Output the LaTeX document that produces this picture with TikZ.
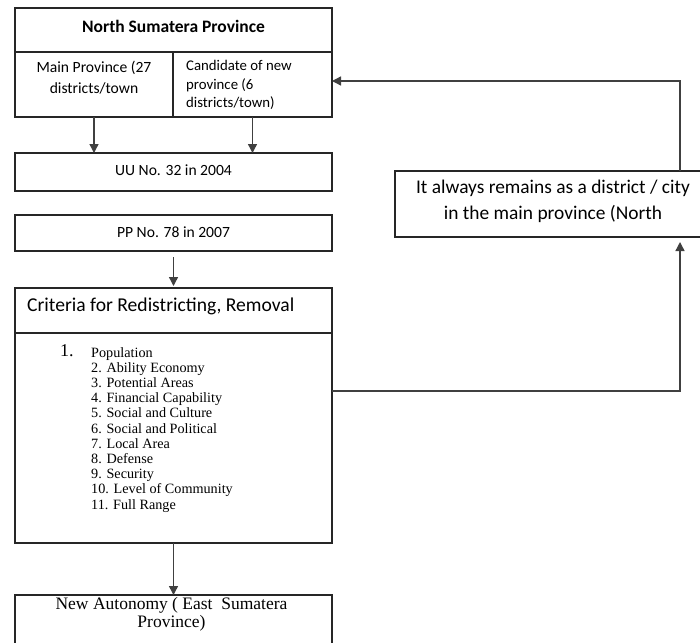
\documentclass[tikz,border=0pt]{standalone}
\usepackage{fontspec}
\setmainfont{Liberation Serif}
\newfontfamily\calfont{Carlito}
\usetikzlibrary{arrows.meta}
\tikzset{
  box/.style={draw=black!85, line width=1.4pt, inner sep=0pt, outer sep=0pt},
  conn/.style={draw=black!75, line width=1.4pt},
  arr/.style={conn, -{Triangle[length=9pt,width=9pt]}},
  sans/.style={font=\calfont\fontsize{15.6}{21}\selectfont},
  listtxt/.style={font=\fontsize{14.2}{15.2}\selectfont, anchor=north west, inner sep=0pt, align=left}
}
\begin{document}
\begin{tikzpicture}[x=1pt,y=-1pt]
\useasboundingbox (0,0) rectangle (700,642);
\clip (0,0) rectangle (700,642);
% boxes
\node[box, minimum width=317pt, minimum height=44pt] (title) at (173.5,30) {};
\node[box, minimum width=158pt, minimum height=65pt] (mainp) at (94,84.5) {};
\node[box, minimum width=159pt, minimum height=65pt] (cand) at (252.5,84.5) {};
\node[box, minimum width=317pt, minimum height=38pt] (uu) at (173.5,172) {};
\node[box, minimum width=317pt, minimum height=36pt] (pp) at (173.5,233) {};
\node[box, minimum width=317pt, minimum height=45pt] (crith) at (173.5,310.5) {};
\node[box, minimum width=317pt, minimum height=210pt] (critl) at (173.5,438) {};
\node[box, minimum width=317pt, minimum height=70pt] (newa) at (173.5,630) {};
\node[box, minimum width=320pt, minimum height=66pt] (remain) at (555,204) {};
% texts
\node[font=\calfont\bfseries\fontsize{17.5}{20}\selectfont] (ttitle) at (173.5,26.5) {North Sumatera Province};
\node[sans, align=center] (tmain) at (94,78) {Main Province (27\\districts/town};
\node[font=\calfont\fontsize{14.8}{18.7}\selectfont, align=left, anchor=north west, inner sep=0pt] (tcand) at (186,60) {Candidate of new\\province (6\\districts/town)};
\node[sans] (tuu) at (173.5,170) {UU No. 32 in 2004};
\node[sans] (tpp) at (173.5,232) {PP No. 78 in 2007};
\node[font=\calfont\fontsize{19.6}{22}\selectfont, anchor=west, inner sep=0pt] (tcrit) at (27,306.5) {Criteria for Redistricting, Removal};
\node[font=\fontsize{18}{18}\selectfont, anchor=north west, inner sep=0pt] (tone) at (60,344) {1.};
\node[listtxt] (tlist) at (91,347) {Population\\2. Ability Economy\\3. Potential Areas\\4. Financial Capability\\5. Social and Culture\\6. Social and Political\\7. Local Area\\8. Defense\\9. Security\\10. Level of Community\\11. Full Range};
\node[font=\fontsize{17.5}{18}\selectfont, align=center, anchor=north, inner sep=0pt] (tnewa) at (171.5,597) {New Autonomy ( East~~Sumatera\\Province)};
\node[font=\calfont\fontsize{19.4}{26}\selectfont, align=center] (tremain) at (553,201) {It always remains as a district / city\\in the main province (North};
% connectors
\draw[arr] (mainp.south) -- (uu.north -| mainp.south);
\draw[arr] (cand.south) -- (uu.north -| cand.south);
\draw[arr, shorten <=6pt, shorten >=2pt] (pp.south) -- (crith.north);
\draw[arr] (critl.south) -- (newa.north);
\coordinate (c1) at (680,391);
\coordinate (c2) at (680,81);
\draw[arr, shorten >=5pt] (critl.east |- c1) -- (c1) -- (c1 |- remain.south);
\draw[arr] (c1 |- remain.north) -- (c2) -- (cand.east |- c2);
\end{tikzpicture}
\end{document}
